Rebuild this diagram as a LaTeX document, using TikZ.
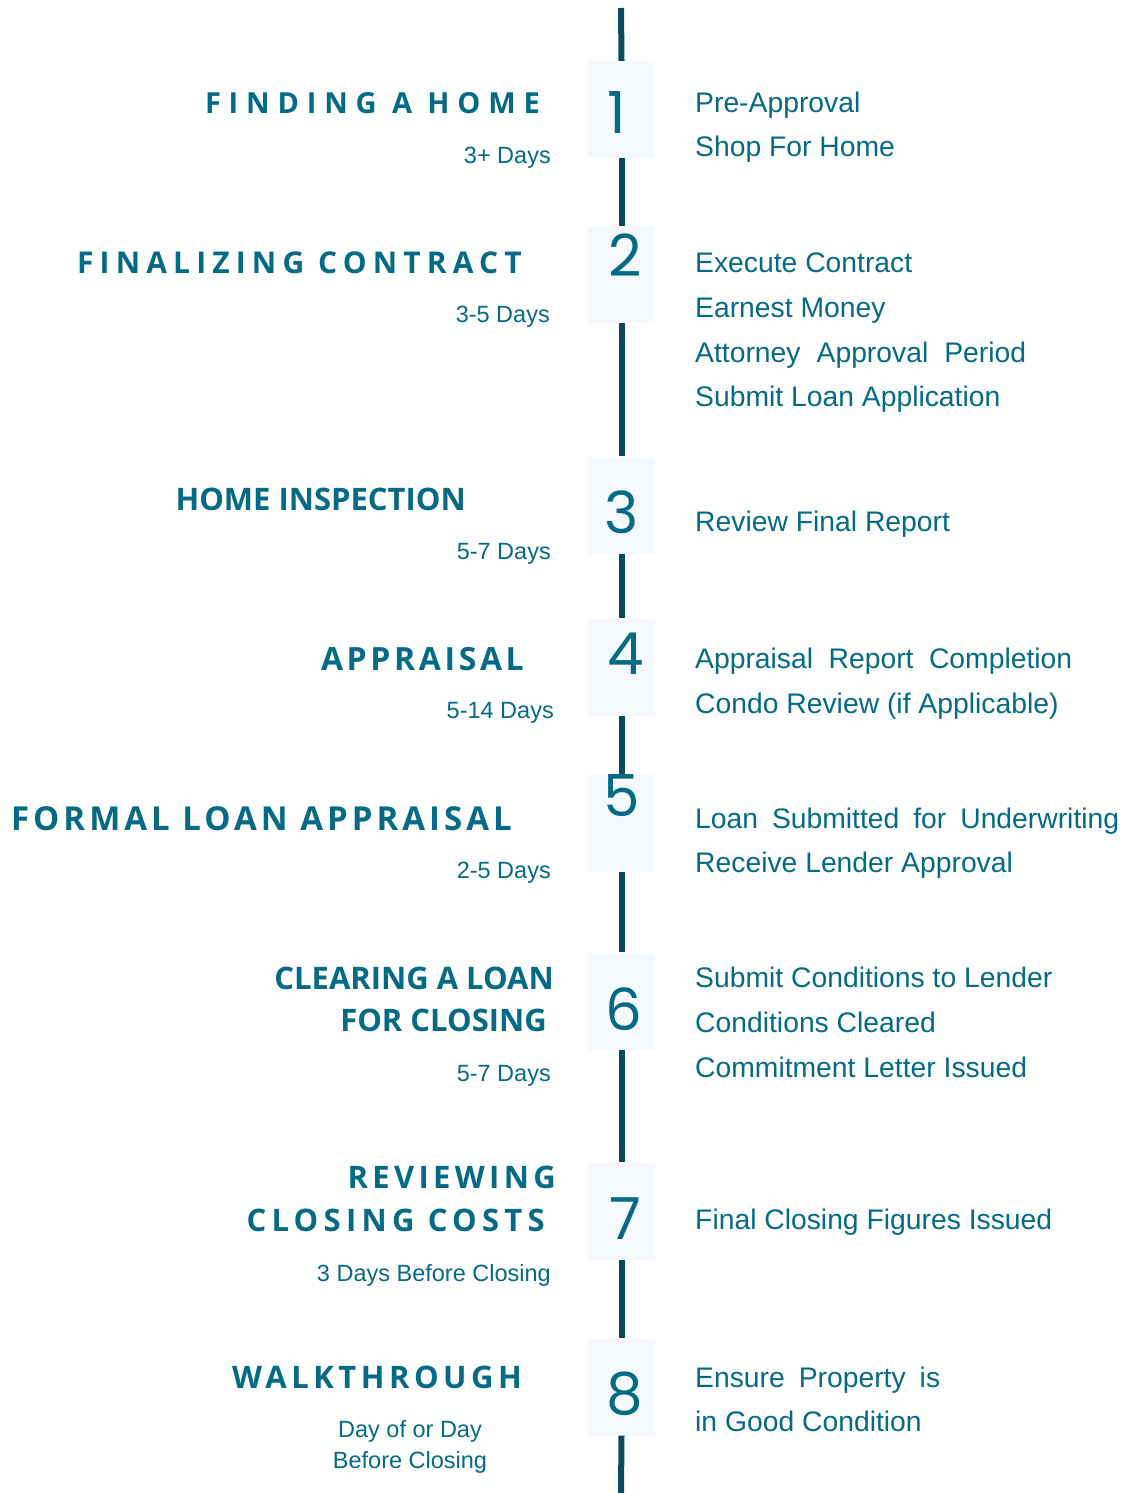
\documentclass[tikz,border=0pt]{standalone}
\usepackage{fontspec}
\setmainfont{Liberation Sans}
\newfontfamily\headplain{Open Sans}
\newfontfamily\numfont{Poppins}
\definecolor{teal}{HTML}{046A86}
\definecolor{spine}{HTML}{0B4862}
\definecolor{boxfill}{HTML}{F5F9FD}
% heading with a given size and letter spacing (percent of the size)
\newcommand\headtext[3]{{\headplain\bfseries\fontsize{#1}{#1}\selectfont\addfontfeatures{LetterSpace=#2}#3}}
\tikzset{
  stepbox/.style={fill=boxfill, draw=none, minimum width=67pt, minimum height=97pt, inner sep=0pt},
  stepnum/.style={text=teal, font=\numfont\fontsize{58}{58}\selectfont, inner sep=0pt},
  head/.style={text=teal, anchor=base east, inner sep=0pt},
  days/.style={text=teal, font=\fontsize{23.5}{28}\selectfont, anchor=base east, inner sep=0pt},
  task/.style={text=teal, font=\fontsize{28.3}{34}\selectfont, anchor=base west, inner sep=0pt},
  spine/.style={draw=spine, line width=6pt}
}
\begin{document}
\begin{tikzpicture}[x=1pt,y=-1pt]
\fill[white] (0,0) rectangle (1124,1493);
\useasboundingbox (0,0) rectangle (1124,1493);

% timeline end points
\coordinate (top) at (621,8);
\coordinate (bottom) at (621,1493);

% step boxes
\node[stepbox] (b1) at (621.5,109.5) {};
\node[stepbox] (b2) at (621.5,274.5) {};
\node[stepbox] (b3) at (621.5,505) {};
\node[stepbox] (b4) at (621.5,667) {};
\node[stepbox] (b5) at (621.5,823) {};
\node[stepbox] (b6) at (621.5,1001) {};
\node[stepbox] (b7) at (621.5,1211) {};
\node[stepbox] (b8) at (621.5,1387) {};

% timeline segments between the boxes
\draw[spine] (top) -- (b1.north);
\draw[spine] (b1.south) -- (b2.north);
\draw[spine] (b2.south) -- (b3.north);
\draw[spine] (b3.south) -- (b4.north);
\draw[spine] (b4.south) -- (b5.north);
\draw[spine] (b5.south) -- (b6.north);
\draw[spine] (b6.south) -- (b7.north);
\draw[spine] (b7.south) -- (b8.north);
\draw[spine] (b8.south) -- (bottom);

% step numbers
\node[stepnum] (n1) at (617,113) {1};
\node[stepnum] (n2) at (625,255.5) {2};
\node[stepnum] (n3) at (622,512) {3};
\node[stepnum] (n4) at (625.5,653.5) {4};
\node[stepnum] (n5) at (622,796) {5};
\node[stepnum] (n6) at (624,1009) {6};
\node[stepnum] (n7) at (625.5,1218.5) {7};
\node[stepnum] (n8) at (624.5,1394) {8};

% stage headings
\node[head] (h1)  at (540,113.5) {\headtext{29}{27}{FINDING A HOME}};
\node[head] (h2)  at (522,273.5) {\headtext{30}{20.5}{FINALIZING CONTRACT}};
\node[head] (h3)  at (466,510)   {\headtext{31}{0}{HOME INSPECTION}};
\node[head] (h4)  at (524,670)   {\headtext{32}{11.3}{APPRAISAL}};
\node[head] (h5)  at (512,830)   {\headtext{33}{12.2}{FORMAL LOAN APPRAISAL}};
\node[head] (h6a) at (554,989)   {\headtext{31}{0}{CLEARING A LOAN}};
\node[head] (h6b) at (547,1031)  {\headtext{31}{0}{FOR CLOSING}};
\node[head] (h7a) at (556,1188)  {\headtext{31}{14}{REVIEWING}};
\node[head] (h7b) at (545,1231)  {\headtext{31}{17}{CLOSING COSTS}};
\node[head] (h8)  at (522,1388)  {\headtext{31}{14.5}{WALKTHROUGH}};

% durations
\node[days] (d1) at (551,163) {3+ Days};
\node[days] (d2) at (550,322) {3-5 Days};
\node[days] (d3) at (551,559) {5-7 Days};
\node[days] (d4) at (554,718) {5-14 Days};
\node[days] (d5) at (551,878) {2-5 Days};
\node[days] (d6) at (551,1081) {5-7 Days};
\node[days] (d7) at (551,1281) {3 Days Before Closing};
\node[days, anchor=base] (d8a) at (410,1437) {Day of or Day};
\node[days, anchor=base] (d8b) at (410,1468) {Before Closing};

% tasks for each stage
\node[task] (t1a) at (695,113) {Pre-Approval};
\node[task] (t1b) at (695,156) {Shop For Home};
\node[task] (t2a) at (695,272) {Execute Contract};
\node[task] (t2b) at (695,317) {Earnest Money};
\node[task] (t2c) at (695,362) {\makebox[331pt][s]{Attorney Approval Period}};
\node[task] (t2d) at (695,406) {Submit Loan Application};
\node[task] (t3a) at (695,531) {Review Final Report};
\node[task] (t4a) at (695,668) {\makebox[377pt][s]{Appraisal Report Completion}};
\node[task] (t4b) at (695,713) {Condo Review (if Applicable)};
\node[task] (t5a) at (695,828) {\makebox[424pt][s]{Loan Submitted for Underwriting}};
\node[task] (t5b) at (695,872) {Receive Lender Approval};
\node[task] (t6a) at (695,987) {Submit Conditions to Lender};
\node[task] (t6b) at (695,1032) {Conditions Cleared};
\node[task] (t6c) at (695,1077) {Commitment Letter Issued};
\node[task] (t7a) at (695,1229) {Final Closing Figures Issued};
\node[task] (t8a) at (695,1387) {\makebox[245pt][s]{Ensure Property is}};
\node[task] (t8b) at (695,1431) {in Good Condition};
\end{tikzpicture}
\end{document}
